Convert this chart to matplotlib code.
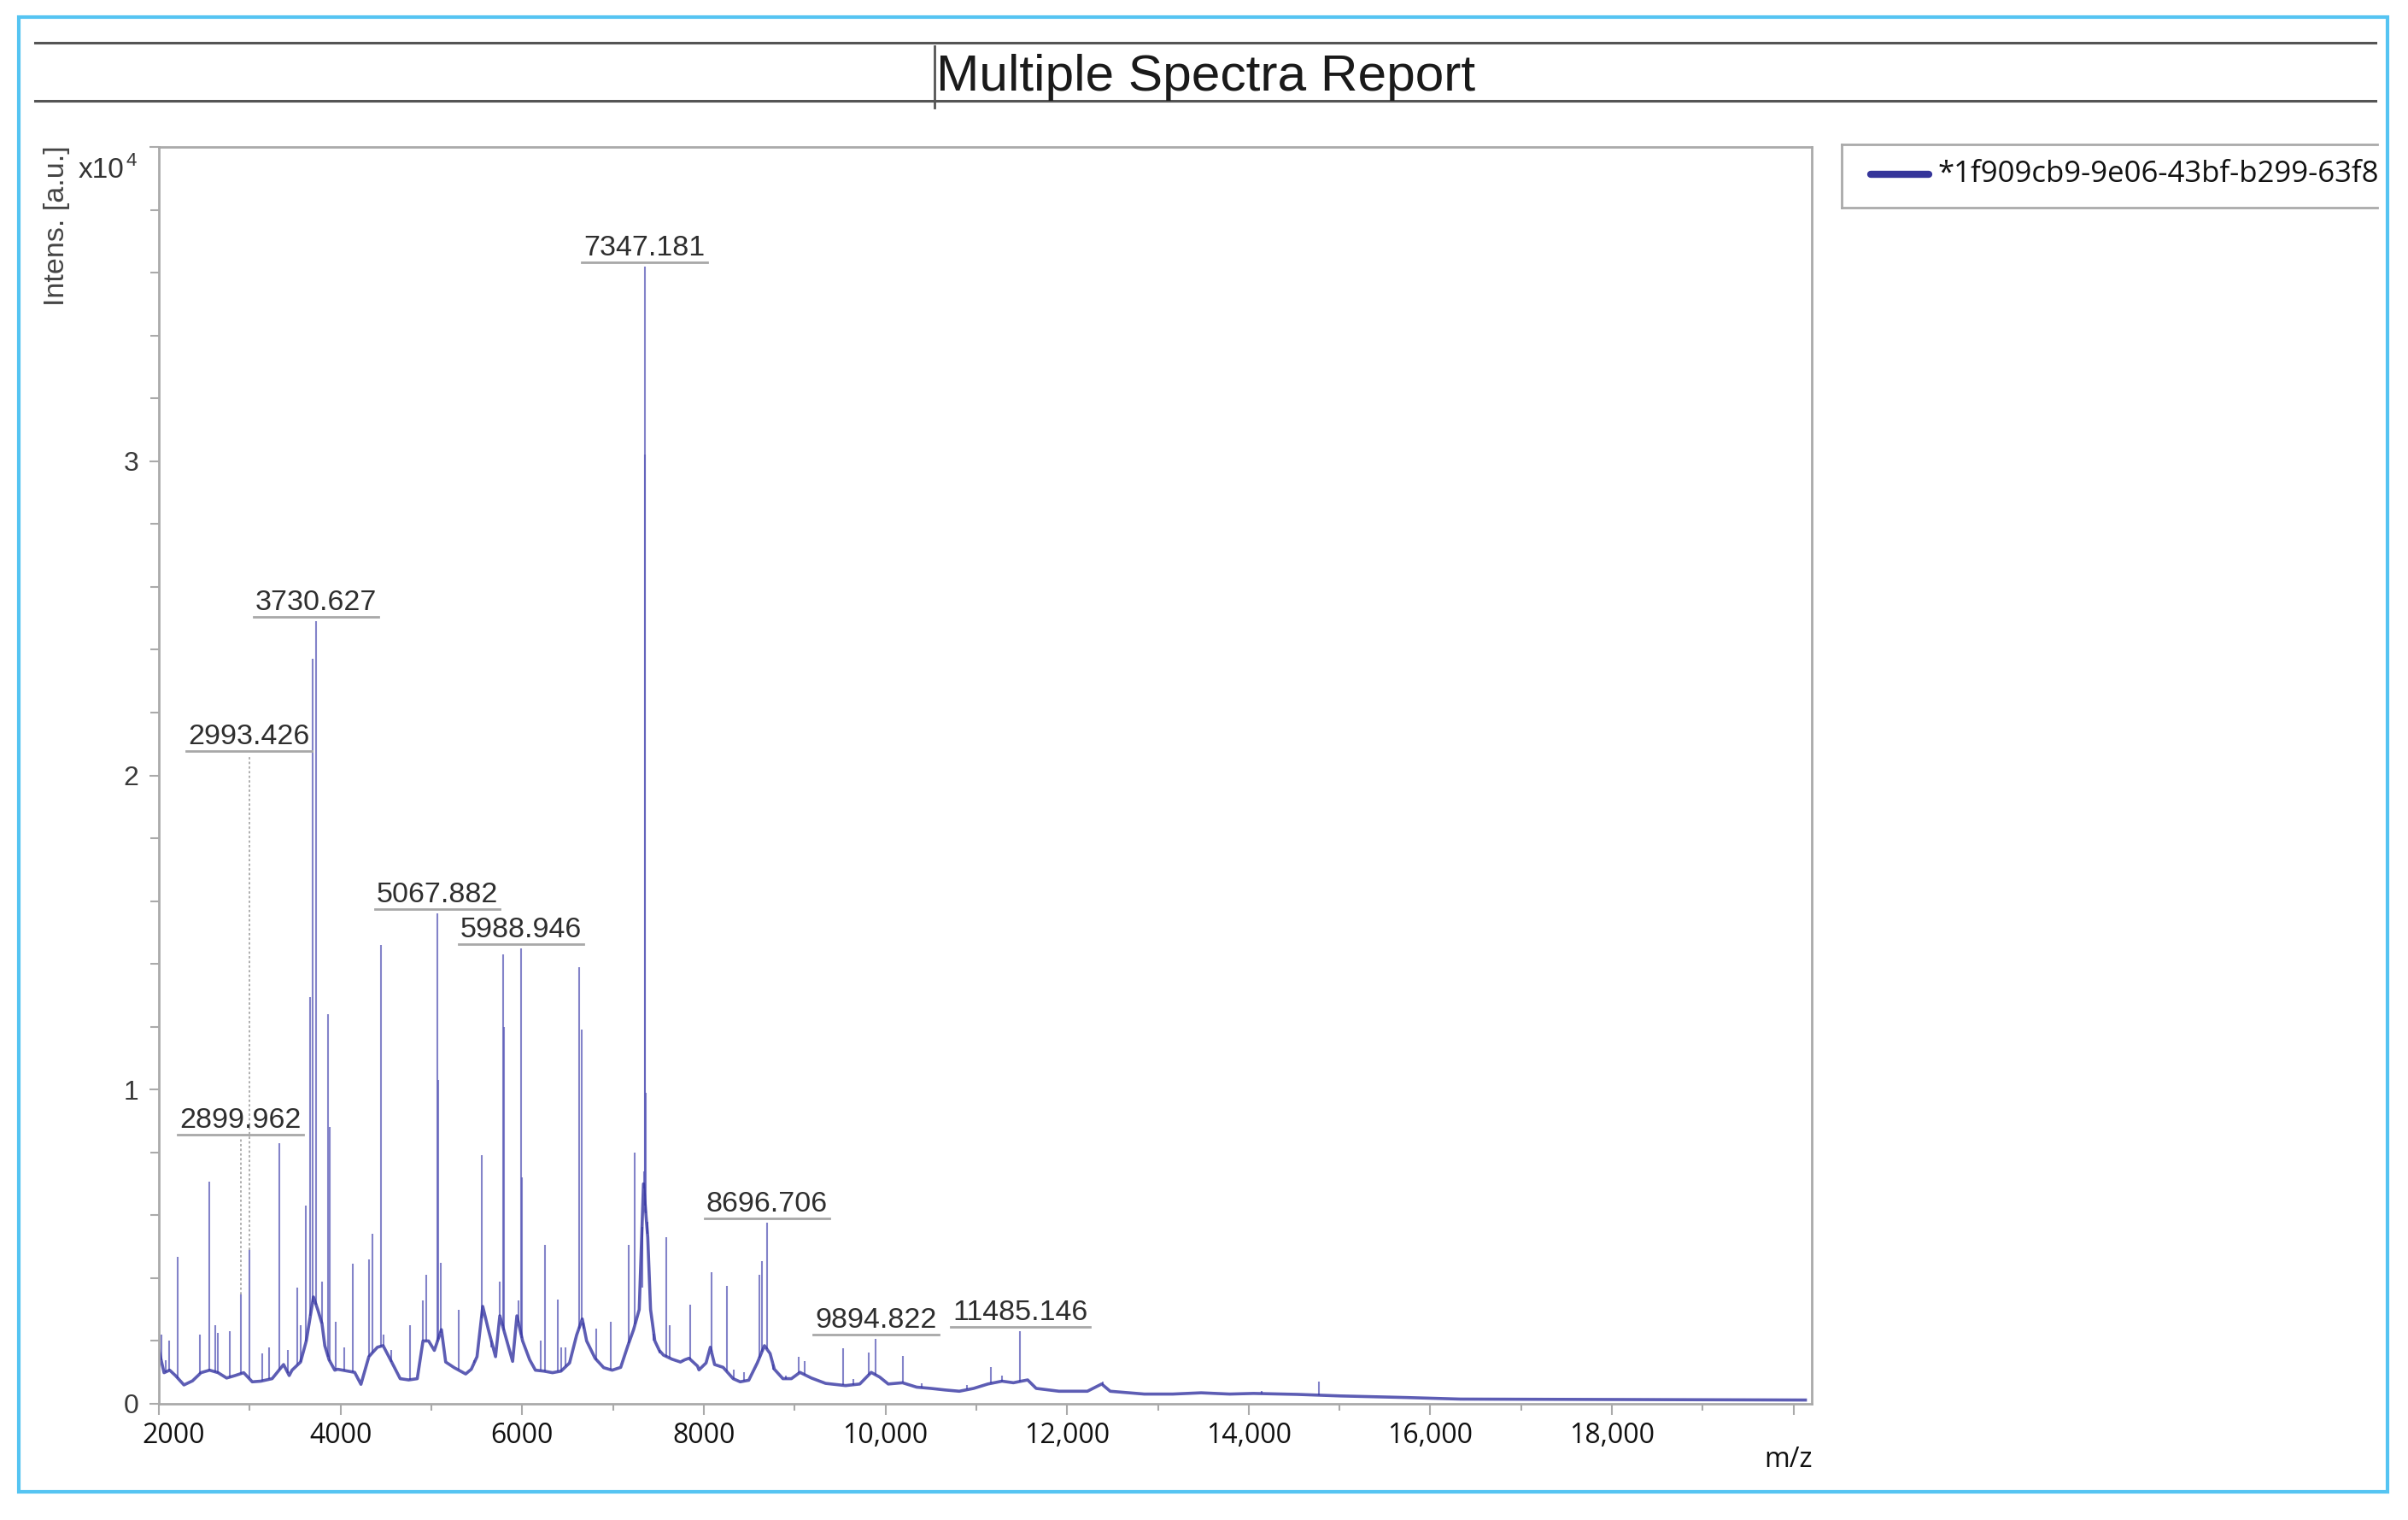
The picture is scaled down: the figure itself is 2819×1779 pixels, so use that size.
import numpy as np
import matplotlib
matplotlib.use("Agg")
import matplotlib.pyplot as plt
import matplotlib.ticker as mticker
import matplotlib.transforms as mtransforms
from matplotlib.lines import Line2D
from matplotlib.patches import Rectangle

W, H = 2819, 1779

# spectrum baseline (m/z, intensity in counts)
base_mz = [2000, 2057, 2119, 2182, 2276, 2370, 2464, 2558, 2652, 2746, 2840, 2934,
           3028, 3122, 3247, 3373, 3435, 3466, 3560, 3623, 3702, 3749, 3796, 3827,
           3874, 3937, 3968, 4062, 4156, 4225, 4312, 4406, 4469, 4563, 4657, 4751,
           4845, 4908, 4970, 5033, 5111, 5158, 5252, 5378, 5440, 5503, 5566, 5628,
           5707, 5754, 5832, 5895, 5942, 6005, 6083, 6146, 6240, 6334, 6428, 6522,
           6600, 6662, 6710, 6803, 6898, 6991, 7085, 7164, 7227, 7289, 7336, 7383,
           7414, 7461, 7510, 7556, 7650, 7743, 7790, 7837, 7931, 7947, 8025, 8072,
           8119, 8213, 8323, 8401, 8495, 8589, 8668, 8730, 8777, 8871, 8965, 9059,
           9185, 9341, 9561, 9718, 9843, 9937, 10031, 10188, 10344, 10501, 10658,
           10814, 10971, 11128, 11284, 11409, 11566, 11660, 11911, 12224, 12381,
           12475, 12851, 13164, 13477, 13790, 14053, 14533, 15012, 15732, 16331,
           17530, 18729, 20130]
base_int = [1700, 990, 1070, 900, 600, 730, 990, 1070, 990, 820, 900, 990,
            700, 720, 800, 1250, 900, 1070, 1330, 2000, 3400, 3000, 2550, 1850,
            1400, 1070, 1100, 1050, 1000, 620, 1500, 1800, 1850, 1330, 800, 760,
            800, 2000, 2000, 1700, 2360, 1330, 1150, 950, 1100, 1500, 3100, 2360,
            1500, 2800, 2000, 1350, 2800, 2000, 1400, 1070, 1040, 990, 1040, 1300,
            2190, 2700, 2000, 1450, 1150, 1070, 1160, 1850, 2360, 3000, 7000, 5300,
            3000, 2000, 1700, 1550, 1420, 1330, 1400, 1450, 1200, 1080, 1300, 1800,
            1250, 1160, 800, 700, 750, 1300, 1850, 1600, 1100, 800, 800, 1000,
            820, 650, 580, 630, 1000, 850, 630, 670, 530, 490, 440,
            400, 490, 630, 720, 670, 760, 490, 400, 400, 630,
            400, 310, 310, 350, 310, 330, 300, 250, 200, 150,
            140, 130, 120]

# peaks (m/z, apex intensity in counts)
peak_mz = [2025, 2072, 2117, 2208, 2455, 2552, 2621, 2652, 2777, 2899.962, 2993.426,
           3138, 3216, 3326, 3420, 3527, 3560, 3622, 3668, 3693, 3730.627, 3796,
           3865, 3880, 3950, 4040, 4138, 4313, 4351, 4445, 4469, 4563, 4767, 4910,
           4940, 5067.882, 5075, 5100, 5299, 5472, 5551, 5660, 5754, 5786, 5800,
           5958, 5988.946, 5998, 6209, 6256, 6397, 6430, 6480, 6626, 6657, 6670,
           6819, 6977, 7174, 7243, 7320, 7340, 7347.181, 7355, 7362, 7380, 7450,
           7510, 7588, 7620, 7770, 7854, 8083, 8255, 8330, 8440, 8615, 8640,
           8696.706, 8762, 8900, 9045, 9106, 9300, 9530, 9650, 9818, 9894.822,
           10189, 10400, 10900, 11160, 11280, 11485.146, 12397, 14143, 14773]
peak_int = [2200, 1400, 2000, 4680, 2200, 7070, 2500, 2260, 2300, 3480, 4900,
            1600, 1800, 8300, 1700, 3700, 2500, 6300, 12950, 23700, 24900, 3900,
            12400, 8800, 2600, 1800, 4450, 4600, 5400, 14600, 2200, 1700, 2500, 3300,
            4100, 15600, 10300, 4500, 3000, 1400, 7900, 1800, 3900, 14300, 12000,
            3300, 14500, 7200, 2000, 5050, 3330, 1800, 1800, 13900, 11900, 2400,
            2400, 2600, 5050, 8000, 3700, 7400, 36200, 30200, 9900, 5800, 2000,
            1600, 5300, 2500, 1400, 3150, 4200, 3760, 1100, 1000, 4100, 4550,
            5760, 1100, 900, 1500, 1350, 700, 1760, 800, 1630, 2070,
            1530, 650, 600, 1170, 900, 2300, 720, 400, 700]

label_mz = [2899.962, 2993.426, 3730.627, 5067.882, 5988.946, 7347.181,
            8696.706, 9894.822, 11485.146]

x_ticks = list(range(2000, 20001, 2000))
y_ticks = [0, 10000, 20000, 30000, 40000]

legend_name = "*1f909cb9-9e06-43bf-b299-63f8"
title = "Multiple Spectra Report"

LINE = "#3434a2"
GRAY = "#aaaaaa"


def fx(x):
    return x / W


def fy(y):
    return 1 - y / H


fig = plt.figure(figsize=(W / 100, H / 100), dpi=100)
fig.patch.set_facecolor("white")

ax = fig.add_axes([fx(186), fy(1643), fx(2121) - fx(186), fy(172) - fy(1643)])
ax.set_xlim(2000, 20200)
ax.set_ylim(0, 40000)

# spectrum: peak sticks and baseline trace
pk_base = np.interp(peak_mz, base_mz, base_int)
ax.vlines(peak_mz, pk_base, peak_int, color="#5a5ab8", lw=1.5, alpha=0.75)
ax.plot(base_mz, base_int, color=LINE, lw=2.6, alpha=0.8, solid_joinstyle="round")

# axes styling
for side in ["left", "top", "right", "bottom"]:
    ax.spines[side].set_color(GRAY)
    ax.spines[side].set_linewidth(2.0)

ax.xaxis.set_major_locator(mticker.FixedLocator(x_ticks))
ax.xaxis.set_minor_locator(mticker.MultipleLocator(1000))
ax.yaxis.set_major_locator(mticker.FixedLocator(y_ticks))
ax.yaxis.set_minor_locator(mticker.MultipleLocator(2000))


def xfmt(v, pos):
    if v >= 20000:
        return ""
    if v >= 10000:
        return "{:,.0f}".format(v)
    return "{:.0f}".format(v)


def yfmt(v, pos):
    if v >= 40000:
        return ""
    return "{:.0f}".format(v / 10000)


ax.xaxis.set_major_formatter(mticker.FuncFormatter(xfmt))
ax.yaxis.set_major_formatter(mticker.FuncFormatter(yfmt))
ax.tick_params(axis="x", which="major", length=9, width=1.5, color=GRAY, pad=6,
               labelsize=23, labelcolor="#111111")
ax.tick_params(axis="x", which="minor", length=6, width=1.5, color=GRAY)
ax.tick_params(axis="y", which="major", length=8, width=1.5, color=GRAY, pad=9,
               labelsize=23, labelcolor="#3a3a3a")
ax.tick_params(axis="y", which="minor", length=7, width=1.5, color=GRAY)
for t in ax.get_xticklabels():
    t.set_fontfamily("Open Sans")
for t in ax.get_yticklabels():
    t.set_fontfamily("Liberation Sans")
# first x label sits a little to the right of its tick
ax.get_xticklabels()[0].set_transform(
    ax.get_xticklabels()[0].get_transform()
    + mtransforms.ScaledTranslation(17 / 100, 0, fig.dpi_scale_trans))

# peak labels
raised = {"2899.962": 8440, "2993.426": 20630}
px_per_unit = (2121 - 186) / (20200 - 2000)
texts = []
for m in label_mz:
    name = "{:.3f}".format(m)
    apex = peak_int[peak_mz.index(m)]
    level = raised.get(name, apex)
    t = ax.annotate(name, xy=(m, level), xytext=(0, 13 * 0.72), textcoords="offset points",
                    ha="center", va="baseline", fontsize=24.5, color="#2e2e2e",
                    family="Liberation Sans")
    texts.append((t, m, level, apex))

fig.canvas.draw()
r = fig.canvas.get_renderer()
under = mtransforms.offset_copy(ax.transData, fig, y=5 * 0.72, units="points")
for t, m, level, apex in texts:
    bb = t.get_window_extent(r)
    hw = (bb.width / 2 + 2) / px_per_unit
    ax.add_line(Line2D([m - hw, m + hw], [level, level], transform=under,
                       color="#a8a8a8", lw=2.0, clip_on=False))
    if level > apex:
        ax.plot([m, m], [apex, level], color="#a8a8a8", lw=1.3, ls=(0, (1.5, 1.5)))

# y label and exponent
fig.text(fx(66), fy(170), "Intens. [a.u.]", rotation=90, ha="center", va="top",
         fontsize=24.5, color="#444444", family="Liberation Sans")
fig.text(fx(92), fy(208), "x10", ha="left", va="baseline", fontsize=24,
         color="#333333", family="Liberation Sans")
fig.text(fx(147), fy(194), "4", ha="left", va="baseline", fontsize=16,
         color="#333333", family="Liberation Sans")
fig.text(fx(2122), fy(1717), "m/z", ha="right", va="baseline", fontsize=23,
         color="#111111", family="Open Sans")

# title block
for yy in (50, 118):
    fig.add_artist(Line2D([fx(41), fx(2781)], [fy(yy), fy(yy)], transform=fig.transFigure,
                          color="#555555", lw=2.2))
fig.add_artist(Line2D([fx(1094), fx(1094)], [fy(54), fy(126)], transform=fig.transFigure,
                      color="#555555", lw=2.0))
fig.text(fx(1412), fy(90), title, ha="center", va="center", fontsize=43.5,
         color="#1a1a1a", family="Liberation Sans")

# legend box (right side open)
for xs, ys in (([2156, 2783], [169, 169]), ([2156, 2783], [243, 243]), ([2156, 2156], [169, 243])):
    fig.add_artist(Line2D([fx(v) for v in xs], [fy(v) for v in ys], transform=fig.transFigure,
                          color=GRAY, lw=2.0))
fig.add_artist(Line2D([fx(2190), fx(2258)], [fy(204), fy(204)], transform=fig.transFigure,
                      color="#35359a", lw=6, solid_capstyle="round"))
lt = fig.text(fx(2268), fy(204), legend_name, ha="left", va="center", fontsize=25,
              color="#111111", family="Open Sans")
lt.set_clip_box(mtransforms.Bbox.from_extents(2150, H - 250, 2788, H - 160))
lt.set_clip_on(True)

# outer frame
fig.add_artist(Rectangle((fx(22), fy(1746)), fx(2795) - fx(22), fy(20) - fy(1746),
                         transform=fig.transFigure, fill=False, edgecolor="#55c4f2", lw=3))

fig.savefig("out.png", dpi=100, facecolor="white")
